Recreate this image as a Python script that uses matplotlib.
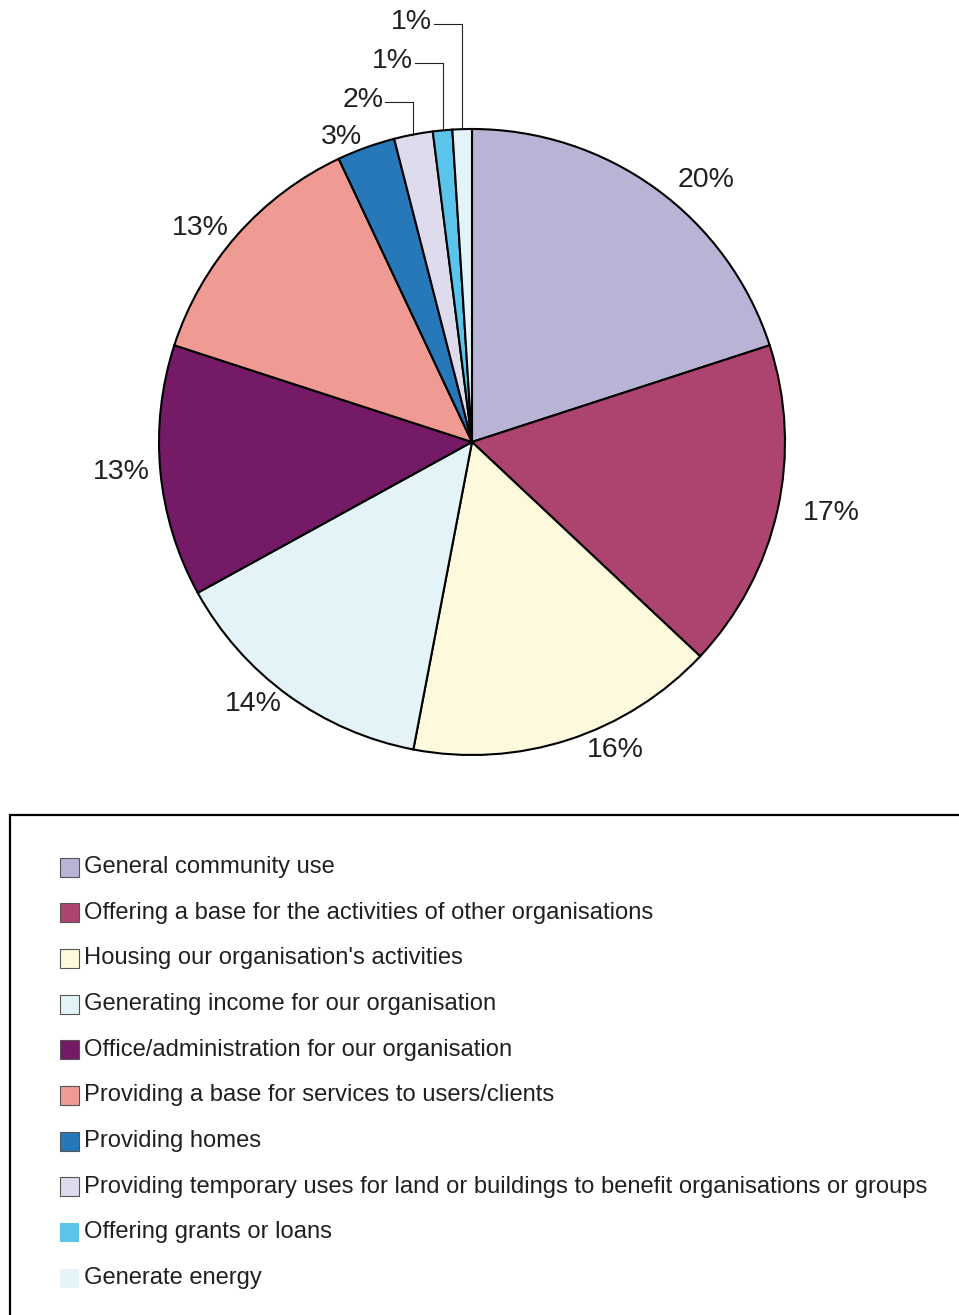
import matplotlib.pyplot as plt
import numpy as np
from matplotlib.patches import Rectangle

plt.rcParams['font.family'] = ['Liberation Sans', 'DejaVu Sans']

categories = [
    "General community use",
    "Offering a base for the activities of other organisations",
    "Housing our organisation's activities",
    "Generating income for our organisation",
    "Office/administration for our organisation",
    "Providing a base for services to users/clients",
    "Providing homes",
    "Providing temporary uses for land or buildings to benefit organisations or groups",
    "Offering grants or loans",
    "Generate energy",
]
shares = [20, 17, 16, 14, 13, 13, 3, 2, 1, 1]
colors = ['#b9b4d6', '#ad4470', '#fdf9dc', '#e4f3f8', '#751a66',
          '#f09a94', '#2778b9', '#dedcec', '#5bc4ea', '#e4f3f8']
# legend swatches without outline
no_edge = [False] * 8 + [True, True]

W, H = 959, 1315
fig = plt.figure(figsize=(W / 100, H / 100), dpi=100)
ax = fig.add_axes([0, 0, 1, 1])

cx, cy, R = 472, H - 442, 313
wedges, _ = ax.pie(shares, colors=colors, startangle=90, counterclock=False,
                   center=(cx, cy), radius=R,
                   wedgeprops=dict(edgecolor='black', linewidth=1.5))

# percentage labels; the thin slices at the top get elbow leaders
small = [i for i, v in enumerate(shares) if v <= 2]
for i, w in enumerate(wedges):
    ang = np.deg2rad((w.theta1 + w.theta2) / 2)
    txt = f"{shares[i]}%"
    if i in small:
        k = small.index(i)
        x0 = cx + R * np.cos(ang)
        y0 = cy + R * np.sin(ang)
        ytop = cy + R * (1.085 + 0.125 * k)
        ax.plot([x0, x0, x0 - 28], [y0, ytop, ytop], color='#222222', lw=0.8)
        ax.text(x0 - 30, ytop + 2, txt, ha='right', va='center', fontsize=20.5,
                color='#231f20')
    else:
        c, s = np.cos(ang), np.sin(ang)
        r = 1.035 * R
        if c > 0:
            ax.text(cx + r * c + 15, cy + r * s, txt, ha='left',
                    va='center', fontsize=20.5, color='#231f20')
        else:
            ax.text(cx + r * c, cy + r * s, txt, ha='right',
                    va='center', fontsize=20.5, color='#231f20')

# legend box
ax.add_patch(Rectangle((10, -100), 1100, H - 815 + 100, facecolor='none',
                       edgecolor='black', lw=1.6))
for i, (lab, col) in enumerate(zip(categories, colors)):
    y = H - (867 + i * 45.67)
    ec = 'none' if no_edge[i] else '#555555'
    ax.add_patch(Rectangle((59.5, y - 9.5), 19, 19, facecolor=col,
                           edgecolor=ec, lw=0.8))
    ax.text(84, y, lab, ha='left', va='center', fontsize=17.1, color='#231f20')

ax.set_xlim(0, W)
ax.set_ylim(0, H)
ax.axis('off')
fig.savefig('out.png', dpi=100)
